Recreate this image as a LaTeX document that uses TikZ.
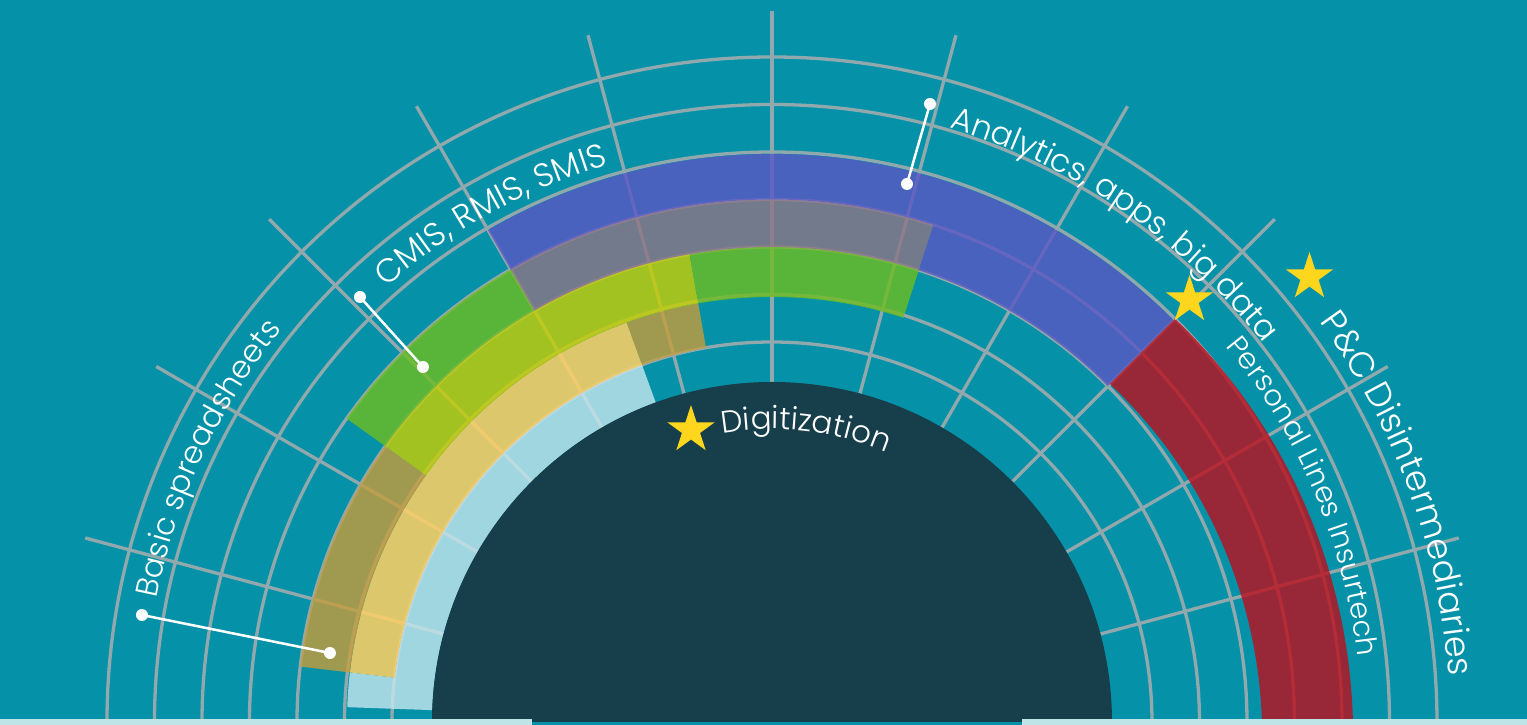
\documentclass[tikz,border=0pt]{standalone}
\usepackage{fontspec}
\newfontfamily\lblfont{Poppins}[UprightFont=* Light]
\usetikzlibrary{shapes.geometric,decorations.text}

\definecolor{bgteal}{RGB}{5,146,168}
\definecolor{gridgray}{RGB}{145,168,172}
\definecolor{lblue}{RGB}{199,232,239}
\definecolor{lyellow}{RGB}{254,208,101}
\definecolor{olive}{RGB}{199,157,58}
\definecolor{lime}{RGB}{201,207,0}
\definecolor{bandgreen}{RGB}{111,189,31}
\definecolor{bandgray}{RGB}{143,116,133}
\definecolor{bandblue}{RGB}{89,86,196}
\definecolor{bandred}{RGB}{189,14,27}
\definecolor{core}{RGB}{22,62,75}
\definecolor{strip}{RGB}{190,228,232}
\definecolor{staryellow}{RGB}{255,214,30}

% annular sector: inner radius, outer radius, start angle, end angle
\newcommand\bandsec[4]{(#3:#2pt) arc[start angle=#3, end angle=#4, radius=#2pt] -- (#4:#1pt) arc[start angle=#4, end angle=#3, radius=#1pt] -- cycle}
\newcommand\lblsize[1]{\lblfont\fontsize{#1}{#1}\selectfont}

\tikzset{
  gridline/.style={draw=gridgray, line width=3.3pt},
  band/.style={fill opacity=0.8},
  leader/.style={draw=white, line width=2.5pt},
  leaderdot/.style={circle, fill=white, inner sep=0pt, minimum size=12pt},
  starmark/.style={star, star points=5, star point ratio=2.618, fill=staryellow, inner sep=0pt, minimum size=50pt},
  arclabel/.style={decorate, decoration={text along path, text align=center, text color=white, text={#1}}}
}

\begin{document}
\begin{tikzpicture}[x=1pt, y=1pt]
  \useasboundingbox (-772,-3) rectangle (755,722);
  \fill[bgteal] (-772,-3) rectangle (755,722);
  % rings and spokes
  \foreach \r in {380,427.5,475,522.5,570,617.5,665}
    \draw[gridline] (0:\r pt) arc[start angle=0, end angle=180, radius=\r pt];
  \foreach \a in {15,30,...,165}
    \draw[gridline] (\a:340pt) -- (\a:711pt);
  % bands
  \fill[band, fill=lblue] \bandsec{340}{380}{110}{178} \bandsec{380}{425}{173.3}{178};
  \fill[fill opacity=0.87, fill=lyellow] \bandsec{380}{425}{110}{173.3};
  \fill[band, fill=olive] \bandsec{425}{475}{144.5}{173.3} \bandsec{380}{425}{100}{110};
  \fill[band, fill=lime] \bandsec{425}{475}{100}{144.5};
  \fill[band, fill=bandgreen] \bandsec{475}{522.5}{120}{144.5} \bandsec{425}{475}{72}{100};
  \fill[band, fill=bandgray] \bandsec{475}{522.5}{72}{120};
  \fill[band, fill=bandblue] \bandsec{522.5}{568}{45}{120} \bandsec{475}{522.5}{45}{72};
  \fill[band, fill=bandred] plot[domain=-0.5:45, samples=46] (\x:{581-11*\x/45})
    -- plot[domain=45:-0.5, samples=46] (\x:{490-12*\x/45}) -- cycle;
  % core
  \fill[core] (0:340pt) arc[start angle=0, end angle=180, radius=340pt] -- cycle;
  \fill[strip] (-772,-3) rectangle (-240,3);
  \fill[strip] (250,-3) rectangle (755,3);
  % labels
  \path[arclabel={|\lblsize{31}|Basic spreadsheets}] (195:628pt) arc[start angle=195, end angle=115, radius=628pt];
  \path[arclabel={|\lblsize{33}|CMIS, RMIS, SMIS}] (159:581pt) arc[start angle=159, end angle=79, radius=581pt];
  \path[arclabel={|\lblsize{32}|Analytics, apps, big data}] (95.5:620pt) arc[start angle=95.5, end angle=15.5, radius=620pt];
  \path[arclabel={|\lblsize{29}|Personal Lines Insurtech}] (63:589pt) arc[start angle=63, end angle=-17, radius=589pt];
  \path[arclabel={|\lblsize{35}|P{\&}C Disintermediaries}] (60:678pt) arc[start angle=60, end angle=-20, radius=678pt];
  \path[arclabel={|\lblsize{31}|Digitization}] (123.4:293pt) arc[start angle=123.4, end angle=43.4, radius=293pt];
  % stars
  \node[starmark] (starDig) at (-81,292) {};
  \node[starmark] (starPLI) at (417.5,422) {};
  \node[starmark] (starPC) at (537.5,445) {};
  % leaders
  \node[leaderdot] (bsOut) at (-630,107) {};
  \node[leaderdot] (bsIn) at (-442,69) {};
  \node[leaderdot] (cmOut) at (-412,425) {};
  \node[leaderdot] (cmIn) at (-349,355) {};
  \node[leaderdot] (anOut) at (158,618) {};
  \node[leaderdot] (anIn) at (135,538) {};
  \draw[leader] (bsOut.center) -- (bsIn.center);
  \draw[leader] (cmOut.center) -- (cmIn.center);
  \draw[leader] (anOut.center) -- (anIn.center);
\end{tikzpicture}
\end{document}
